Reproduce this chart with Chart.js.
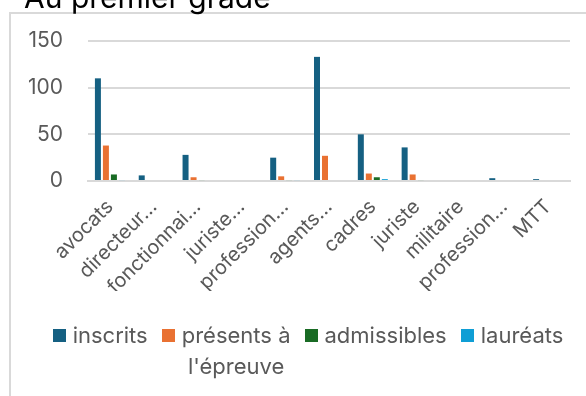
<!DOCTYPE html>
<html lang="fr">
<head>
    <meta charset="UTF-8">
    <title>Au premier grade</title>
    <script src="https://cdn.jsdelivr.net/npm/chart.js"></script>
    <style>
        html, body { margin: 0; padding: 0; background: #fff; overflow: hidden; }
        #wrap { position: relative; width: 586px; height: 396px; }
        #legend {
            position: absolute; left: 0; top: 320px; width: 616px;
            display: flex; justify-content: center; align-items: flex-start;
            font-family: Inter, 'Open Sans', sans-serif; font-size: 22px; color: #595959;
            line-height: 31px;
        }
        #legend .item { display: flex; align-items: flex-start; margin: 0 7px; }
        #legend .box { width: 13px; height: 13px; margin: 9px 7px 0 0; flex: none; }
        #legend .txt { text-align: center; }
    </style>
</head>
<body>
<div id="wrap">
    <canvas id="chart" width="586" height="396"></canvas>
    <div id="legend"></div>
</div>

<script>
// categories (Excel truncated the long ones with an ellipsis)
const categories = ["avocats", "directeur…", "fonctionnai…", "juriste…", "profession…",
    "agents…", "cadres", "juriste", "militaire", "profession…", "MTT"];

const seriesNames = ["inscrits", "présents à l'épreuve", "admissibles", "lauréats"];
const seriesColors = ["#156082", "#E97132", "#196B24", "#0F9ED5"];

const inscrits    = [110, 6, 28, 0, 25, 133, 50, 36, 0, 3, 2];
const presents    = [38, 0, 4, 0, 5, 27, 8, 7, 0, 0, 0];
const admissibles = [7, 0, 1, 0, 1, 0, 4, 1, 0, 0, 0];
const laureats    = [1, 0, 0, 0, 1, 0, 2, 0, 0, 0, 0];

const yTicks = [0, 50, 100, 150];

const FONT = "Inter, 'Open Sans', sans-serif";
const GREY = "#595959";

// light frame around the chart object, like in Excel
const framePlugin = {
    id: 'frame',
    beforeDraw(chart) {
        const ctx = chart.ctx;
        ctx.save();
        ctx.fillStyle = '#fff';
        ctx.fillRect(0, 0, chart.width, chart.height);
        ctx.strokeStyle = '#d9d9d9';
        ctx.lineWidth = 2;
        ctx.strokeRect(10, 13, chart.width + 20, chart.height + 20);
        ctx.restore();
    }
};

const allData = [inscrits, presents, admissibles, laureats];

const chart = new Chart(document.getElementById("chart"), {
    type: 'bar',
    data: {
        labels: categories,
        datasets: seriesNames.map((name, i) => ({
            label: name,
            data: allData[i],
            backgroundColor: seriesColors[i]
        }))
    },
    options: {
        responsive: false,
        animation: false,
        datasets: {
            bar: { categoryPercentage: 0.73, barPercentage: 0.75 }
        },
        layout: { padding: { left: 24, right: 16, top: 0, bottom: 105 } },
        plugins: {
            title: {
                display: true,
                text: "Au premier grade",
                align: 'start',
                color: '#000',
                font: { family: FONT, size: 30, weight: 'normal' },
                padding: { top: -19, bottom: 24 }
            },
            legend: { display: false },
            tooltip: { enabled: false }
        },
        scales: {
            x: {
                grid: { display: false },
                border: { color: '#d9d9d9', width: 2 },
                afterFit: (scale) => {
                    // rotated labels may hang over the left edge, as in Excel
                    scale.height = 110;
                    scale.paddingLeft = 0;
                    scale.paddingRight = 0;
                },
                ticks: {
                    color: GREY,
                    font: { family: FONT, size: 20 },
                    minRotation: 45,
                    maxRotation: 45,
                    autoSkip: false,
                    padding: 6
                }
            },
            y: {
                min: 0,
                max: 150,
                afterBuildTicks: (scale) => { scale.ticks = yTicks.map(v => ({ value: v })); },
                afterFit: (scale) => { scale.width = 64; },
                grid: { color: '#d9d9d9', lineWidth: 2, drawTicks: false },
                border: { display: false },
                ticks: {
                    color: GREY,
                    font: { family: FONT, size: 21 },
                    padding: 25
                }
            }
        }
    },
    plugins: [framePlugin]
});

// legend as in the Excel chart: "présents à l'épreuve" wraps on two lines
const legend = document.getElementById("legend");
chart.data.datasets.forEach(ds => {
    const item = document.createElement("div");
    item.className = "item";
    const box = document.createElement("span");
    box.className = "box";
    box.style.background = ds.backgroundColor;
    const txt = document.createElement("span");
    txt.className = "txt";
    txt.innerHTML = ds.label === "présents à l'épreuve" ? "présents à<br>l'épreuve" : ds.label;
    item.appendChild(box);
    item.appendChild(txt);
    legend.appendChild(item);
});
</script>
</body>
</html>
